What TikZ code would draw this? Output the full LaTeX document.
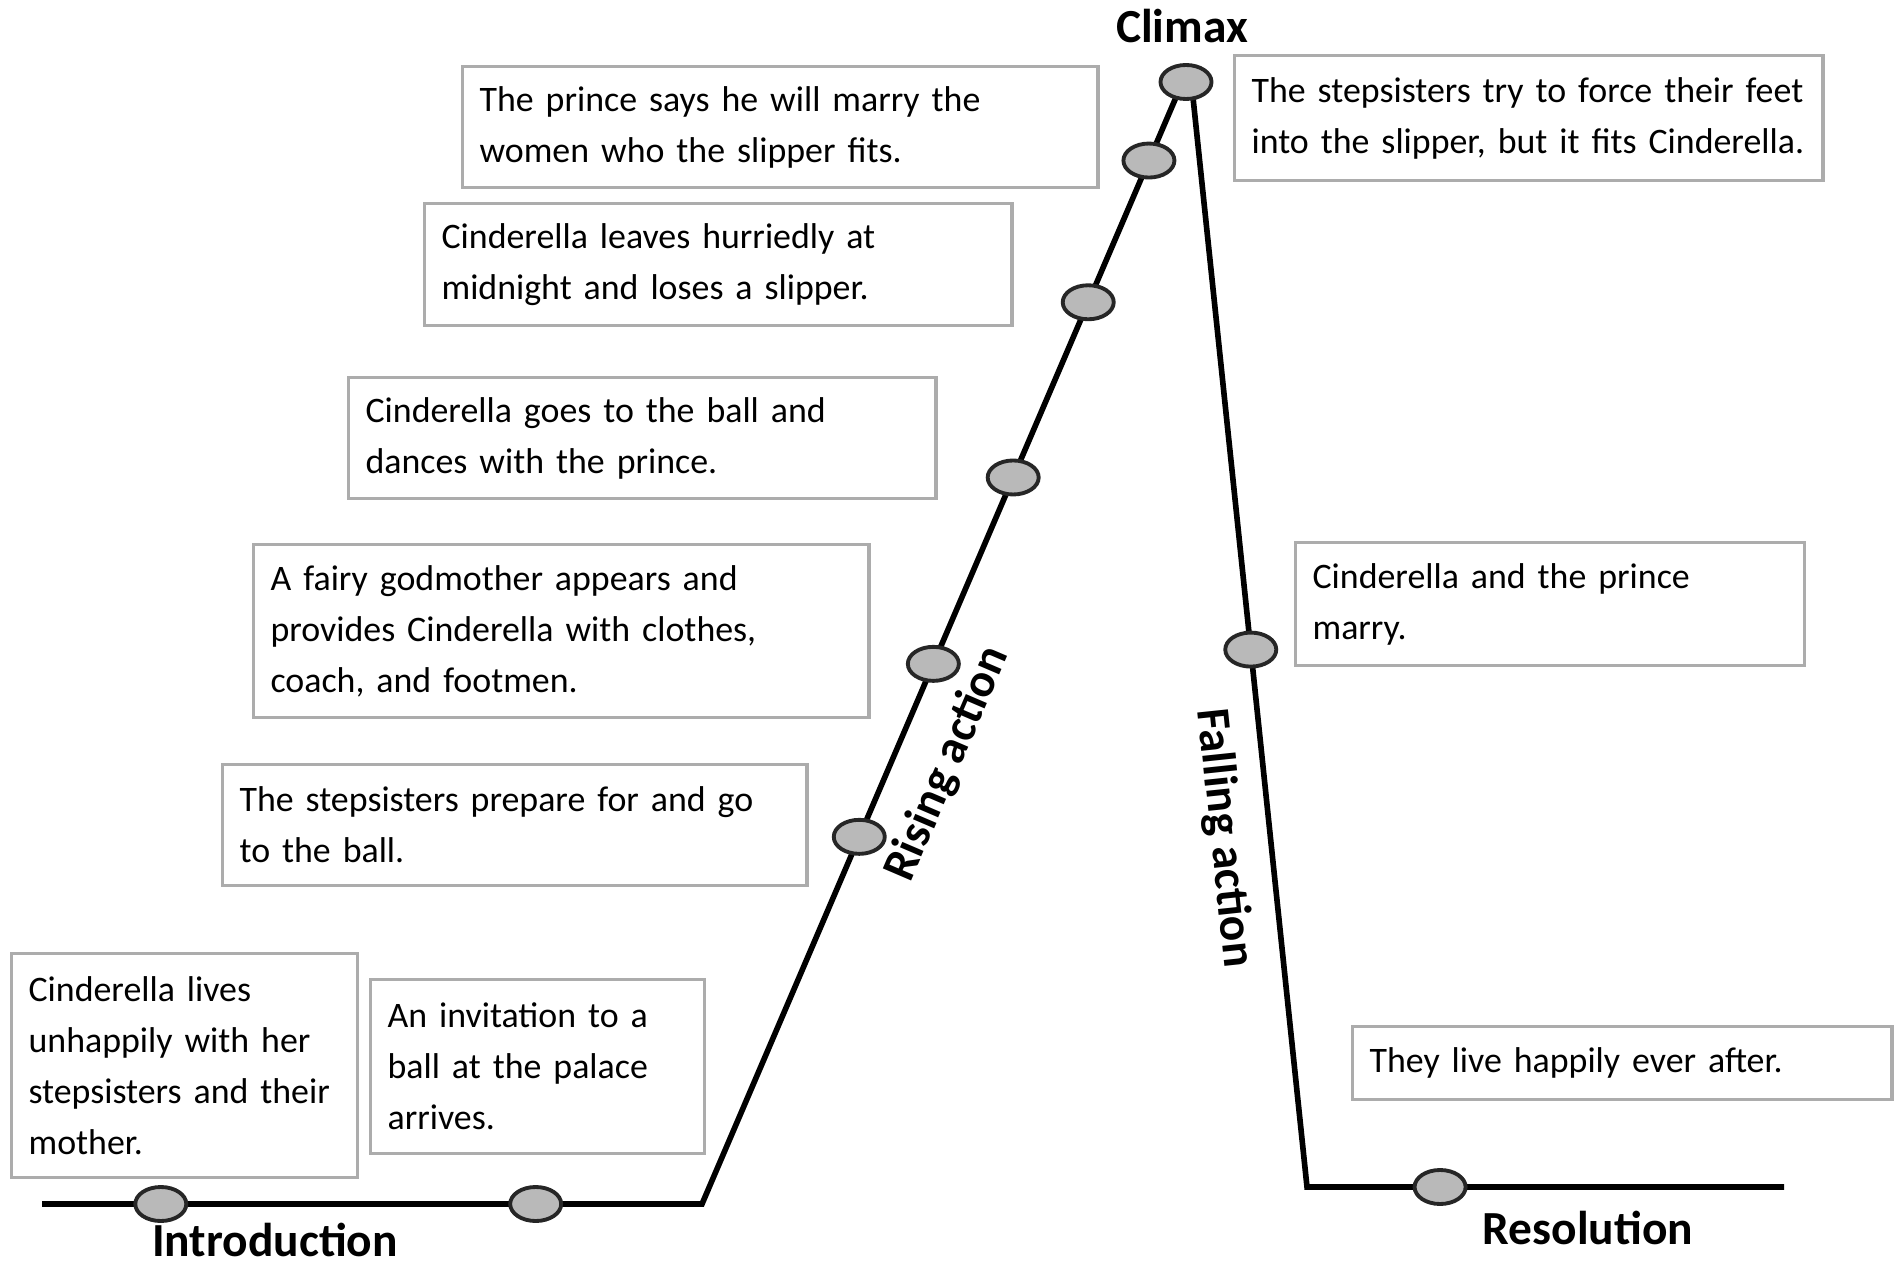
\documentclass[tikz,border=0pt]{standalone}
\usepackage{fontspec}
\setmainfont{Carlito}[WordSpace=0.6]
\newfontfamily\stagefont{Carlito}
\usepackage{tikz}
\usetikzlibrary{shapes.geometric}

\begin{document}
\begin{tikzpicture}[x=0.01cm, y=-0.01cm]
    \tikzstyle{event} = [rectangle, draw=gray!65, line width=0.9pt, fill=white, anchor=north west, align=left, inner xsep=0.17cm, inner ysep=0pt, font=\fontsize{10.2}{14.5}\selectfont]
    \tikzstyle{dot} = [ellipse, draw=black!85, line width=1.1pt, fill=gray!55, minimum width=0.51cm, minimum height=0.34cm, inner sep=0pt]
    \tikzstyle{stage} = [font=\stagefont\fontsize{13.5}{15}\selectfont\bfseries]
    \tikzstyle{plotline} = [line width=1.6pt, line join=miter]

    \useasboundingbox (0,0) rectangle (1897,1267);

    \node (intro) [event, text width=3.12cm, minimum height=2.24cm] at (10,952) {\mbox{Cinderella lives}\\ \mbox{unhappily with her}\\ \mbox{stepsisters and their}\\ mother.};
    \node (invite) [event, text width=3.00cm, minimum height=1.74cm] at (369,978) {An invitation to a\\ ball at the palace\\ arrives.};
    \node (prepare) [event, text width=5.50cm, minimum height=1.21cm] at (221,763) {\mbox{The stepsisters prepare for and go}\\ to the ball.};
    \node (godmother) [event, text width=5.81cm, minimum height=1.73cm] at (252,543) {A fairy godmother appears and\\ \mbox{provides Cinderella with clothes,}\\ coach, and footmen.};
    \node (dance) [event, text width=5.53cm, minimum height=1.21cm] at (347,376) {Cinderella goes to the ball and\\ dances with the prince.};
    \node (midnight) [event, text width=5.53cm, minimum height=1.22cm] at (423,202) {Cinderella leaves hurriedly at\\ midnight and loses a slipper.};
    \node (decree) [event, text width=6.01cm, minimum height=1.21cm] at (461,65) {\mbox{The prince says he will marry the}\\ women who the slipper fits.};
    \node (fitting) [event, text width=5.54cm, minimum height=1.25cm] at (1233,54) {\mbox{The stepsisters try to force their feet}\\ \mbox{into the slipper, but it fits Cinderella.}};
    \node (wedding) [event, text width=4.75cm, minimum height=1.23cm] at (1294,541) {Cinderella and the prince\\ marry.};
    \node (ending) [event, text width=5.05cm, minimum height=0.73cm] at (1351,1025) {They live happily ever after.};

    \coordinate (lineStart) at (42,1204);
    \coordinate (riseStart) at (702,1204);
    \coordinate (peakL) at (1180,88);
    \coordinate (peakR) at (1192,88);
    \coordinate (fallEnd) at (1307,1187);
    \coordinate (lineEnd) at (1784,1187);

    \draw [plotline] (lineStart) -- (riseStart) -- (peakL);
    \draw [plotline] (peakR) -- (fallEnd) -- (lineEnd);

    \path (lineStart) -- (riseStart) node (i1) [dot, pos=0.18] {} node (i2) [dot, pos=0.748] {};
    \path (riseStart) -- (peakL) node (r1) [dot, pos=0.329] {} node (r2) [dot, pos=0.484] {} node (r3) [dot, pos=0.651] {} node (r4) [dot, pos=0.808] {} node (r5) [dot, pos=0.935] {};
    \node (peak) [dot] at (1186,82) {};
    \path (peakR) -- (fallEnd) node (f1) [dot, pos=0.511] {};
    \path (fallEnd) -- (lineEnd) node (e1) [dot, pos=0.279] {};

    \node (climax) [stage] at (1182,26) {Climax};
    \node (introLabel) [stage] at (275,1240) {Introduction};
    \node (resLabel) [stage] at (1588,1228) {Resolution};
    \node (rising) [stage, rotate=66.8] at (948,764) {Rising action};
    \node (falling) [stage, rotate=-84] at (1224,838) {Falling action};
\end{tikzpicture}
\end{document}
